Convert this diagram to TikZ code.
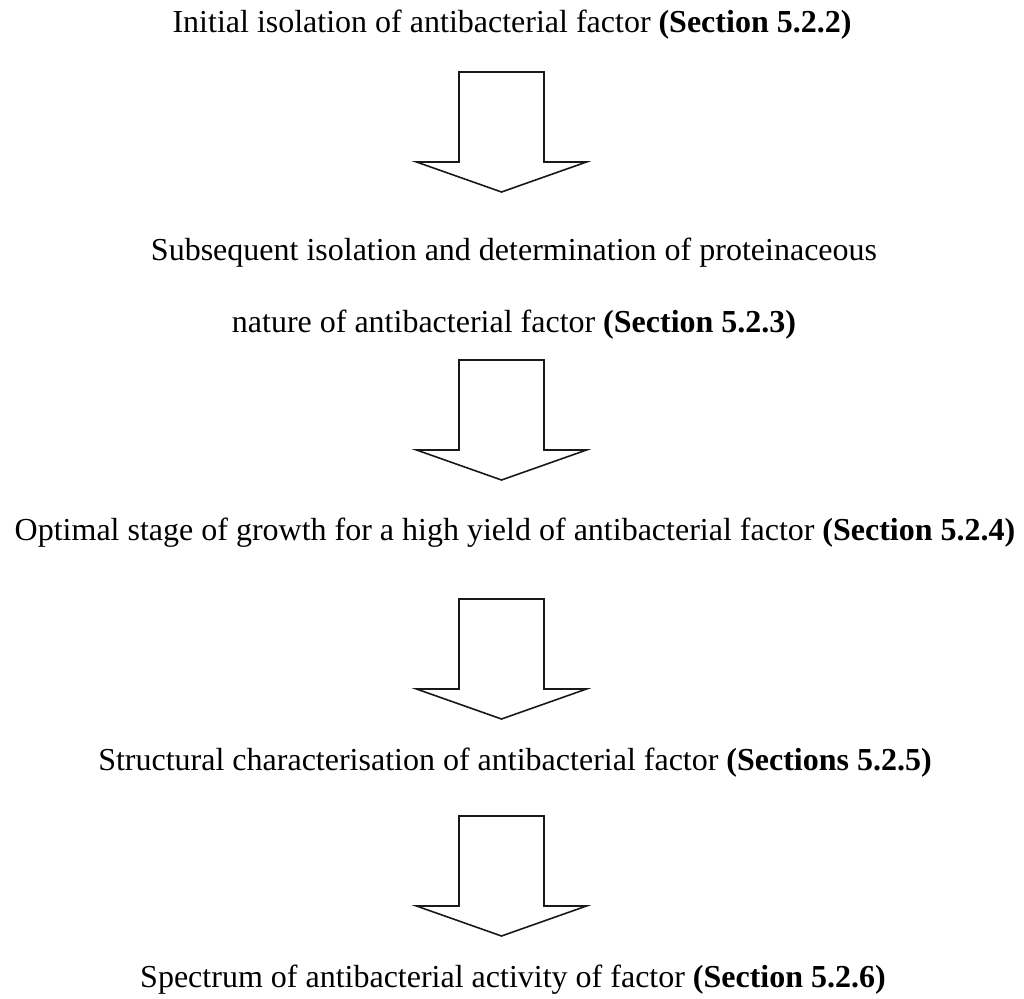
\documentclass[tikz,border=0pt]{standalone}
\usepackage{fontspec}
\setmainfont{Liberation Serif}
\begin{document}
\begin{tikzpicture}[x=1pt,y=-1pt,
  lbl/.style={anchor=base, inner sep=0pt, font=\fontsize{32}{38}\selectfont, text=black},
  blockarrow/.style={draw=black!90, line width=1.6pt, fill=white, line join=miter}]
\useasboundingbox (0,0) rectangle (1024,998);
\node[lbl] (t1) at (512,33) {Initial isolation of antibacterial factor \textbf{(Section 5.2.2)}};
\node[lbl] (t2a) at (514,260) {Subsequent isolation and determination of proteinaceous};
\node[lbl] (t2b) at (514,332) {nature of antibacterial factor \textbf{(Section 5.2.3)}};
\node[lbl] (t3) at (515,540) {Optimal stage of growth for a high yield of antibacterial factor \textbf{(Section 5.2.4)}};
\node[lbl] (t4) at (515,770) {Structural characterisation of antibacterial factor \textbf{(Sections 5.2.5)}};
\node[lbl] (t5) at (513,987) {Spectrum of antibacterial activity of factor \textbf{(Section 5.2.6)}};
\coordinate (a1) at (501.5,72);
\coordinate (a2) at (501.5,360);
\coordinate (a3) at (501.5,599);
\coordinate (a4) at (501.5,816);
\foreach \a in {a1,a2,a3,a4}
  \draw[blockarrow, shift={(\a)}] (-42.5,0) -- (42.5,0) -- (42.5,90) -- (85,90) -- (0,120) -- (-85,90) -- (-42.5,90) -- cycle;
\end{tikzpicture}
\end{document}
